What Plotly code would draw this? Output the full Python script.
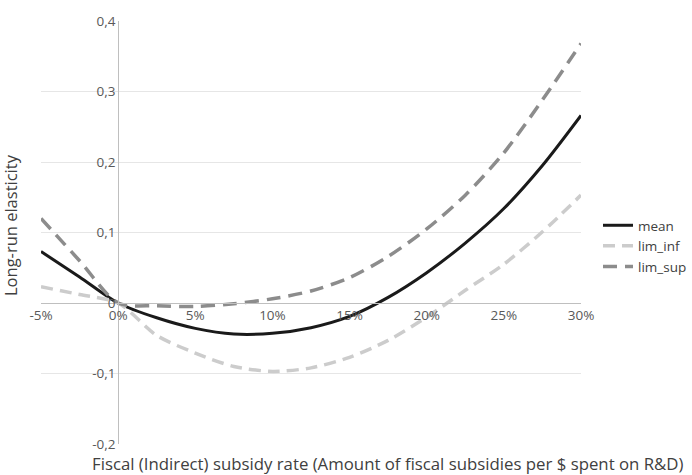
import plotly.graph_objects as go

rate = [-0.05, -0.025, 0.0, 0.025, 0.05, 0.075, 0.10, 0.125, 0.15, 0.175, 0.20, 0.225, 0.25, 0.275, 0.30]
mean = [0.073, 0.037, 0.0, -0.021, -0.036, -0.044, -0.043, -0.035, -0.019, 0.008, 0.043, 0.085, 0.134, 0.195, 0.266]
lim_inf = [0.023, 0.012, 0.0, -0.046, -0.071, -0.090, -0.097, -0.092, -0.077, -0.053, -0.020, 0.018, 0.055, 0.101, 0.153]
lim_sup = [0.120, 0.060, 0.0, -0.004, -0.005, -0.001, 0.006, 0.017, 0.036, 0.066, 0.105, 0.153, 0.213, 0.288, 0.368]

x_ticks = [-0.05, 0.0, 0.05, 0.10, 0.15, 0.20, 0.25, 0.30]
x_labels = ["-5%", "0%", "5%", "10%", "15%", "20%", "25%", "30%"]
y_ticks = [-0.2, -0.1, 0.0, 0.1, 0.2, 0.3, 0.4]
y_labels = ["-0,2", "-0,1", "0", "0,1", "0,2", "0,3", "0,4"]

FONT = "Open Sans"
fig = go.Figure()
fig.add_trace(go.Scatter(x=rate, y=mean, name="mean", mode="lines",
                         line=dict(color="#1a1a1a", width=3, shape="spline", smoothing=0.8)))
fig.add_trace(go.Scatter(x=rate, y=lim_inf, name="lim_inf", mode="lines",
                         line=dict(color="#cccccc", width=3.5, shape="spline", smoothing=0.8, dash="12px,7px")))
fig.add_trace(go.Scatter(x=rate, y=lim_sup, name="lim_sup", mode="lines",
                         line=dict(color="#8c8c8c", width=3.5, shape="spline", smoothing=0.8, dash="14px,8px")))

L, R, T, B = 41, 581, 21, 444
fig.update_layout(
    width=692, height=475,
    margin=dict(l=L, r=692 - R, t=T, b=475 - B, autoexpand=False),
    plot_bgcolor="white", paper_bgcolor="white",
    font=dict(family=FONT, size=12, color="#595959"),
    xaxis=dict(range=[-0.05, 0.30], tickvals=x_ticks, ticktext=x_labels,
               showgrid=False, zeroline=False, showline=True, linecolor="#bfbfbf", linewidth=1,
               anchor="free", position=1/3, ticks="", automargin=False,
               tickfont=dict(family=FONT, size=13.5, color="#595959")),
    yaxis=dict(range=[-0.2, 0.4], tickvals=y_ticks, ticktext=y_labels,
               showgrid=True, gridcolor="#e6e6e6", gridwidth=1, zeroline=False,
               showline=True, linecolor="#bfbfbf", linewidth=1,
               anchor="free", position=1/7, ticks="", automargin=False,
               tickfont=dict(family=FONT, size=13.5, color="#595959")),
    legend=dict(xref="container", yref="container", x=598 / 692, y=1 - 210 / 475,
                xanchor="left", yanchor="top",
                font=dict(family=FONT, size=13.5, color="#404040"),
                bgcolor="rgba(0,0,0,0)", tracegroupgap=0, itemwidth=30),
    annotations=[
        dict(text="Fiscal (Indirect) subsidy rate (Amount of fiscal subsidies per $ spent on R&D)",
             xref="paper", yref="paper", x=(387 - L) / (R - L), y=-(463 - B) / (B - T),
             xanchor="center", yanchor="middle",
             showarrow=False, font=dict(family=FONT, size=16.8, color="#404040")),
        dict(text="Long-run elasticity", xref="paper", yref="paper",
             x=(10 - L) / (R - L), y=(B - 225) / (B - T), textangle=-90, xanchor="center", yanchor="middle",
             showarrow=False, font=dict(family=FONT, size=16.5, color="#404040")),
    ],
)
fig.write_html("out.html", config={"displayModeBar": False},
               post_script="document.body.style.margin='0';document.body.style.overflow='hidden';")
